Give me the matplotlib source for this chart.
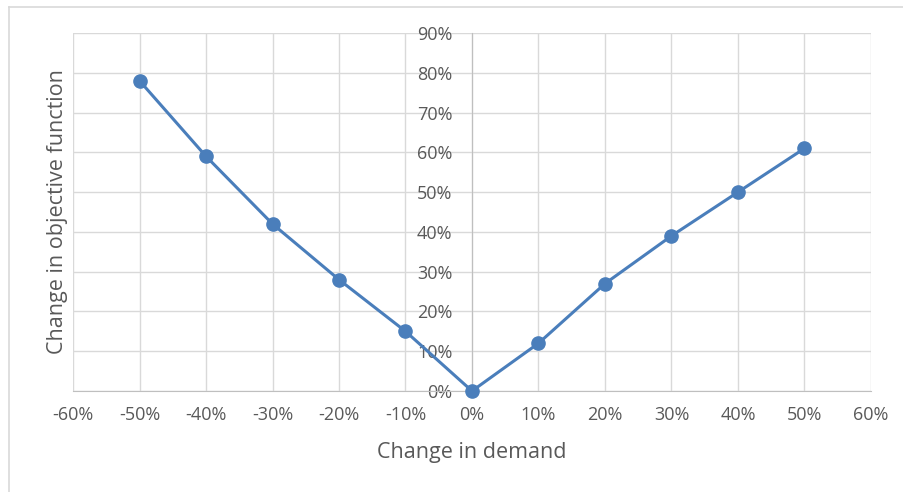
import matplotlib.pyplot as plt
from matplotlib.lines import Line2D
from matplotlib.ticker import MultipleLocator, FuncFormatter

demand_change = [-50, -40, -30, -20, -10, 0, 10, 20, 30, 40, 50]
objective_change = [78, 59, 42, 28, 15, 0, 12, 27, 39, 50, 61]

plt.rcParams['font.family'] = ['Open Sans', 'DejaVu Sans']
text_color = "#595959"
line_color = "#4a7ebb"

fig = plt.figure(figsize=(9.04, 4.92), dpi=100)
ax = fig.add_axes([73 / 904, 1 - 391 / 492, 798 / 904, 358 / 492])

# chart frame: only the left and top edges fall inside the image
fx, fy = 8.5 / 904, 1 - 7 / 492
fig.add_artist(Line2D([fx, fx], [0, fy], transform=fig.transFigure,
                      color="#d9d9d9", linewidth=1.2))
fig.add_artist(Line2D([fx, 1], [fy, fy], transform=fig.transFigure,
                      color="#d9d9d9", linewidth=1.2))

ax.plot(demand_change, objective_change, color=line_color, linewidth=2.2,
        marker='o', markersize=9.5, zorder=5, clip_on=False)

ax.set_xlim(-60, 60)
ax.set_ylim(0, 90)
ax.xaxis.set_major_locator(MultipleLocator(10))
ax.yaxis.set_major_locator(MultipleLocator(10))
pct = FuncFormatter(lambda v, pos: f"{v:.0f}%")
ax.xaxis.set_major_formatter(pct)
ax.yaxis.set_major_formatter(pct)

ax.grid(True, color="#d9d9d9", linewidth=1.0, zorder=0)
ax.set_axisbelow(True)

for side in ('top', 'right'):
    ax.spines[side].set_visible(False)
ax.spines['left'].set_position(('data', 0))
ax.spines['left'].set_color("#bfbfbf")
ax.spines['bottom'].set_color("#bfbfbf")
ax.spines['left'].set_zorder(1)

ax.tick_params(axis='both', length=0, labelsize=13, labelcolor=text_color)
ax.tick_params(axis='x', pad=11)
ax.tick_params(axis='y', pad=14)

ax.set_xlabel("Change in demand", fontsize=15.5, color=text_color, labelpad=13)
ax.set_ylabel("Change in objective function", fontsize=15.5, color=text_color)
ax.yaxis.set_label_coords(-5 / 798, 0.5)

fig.savefig("out.png", dpi=100)
